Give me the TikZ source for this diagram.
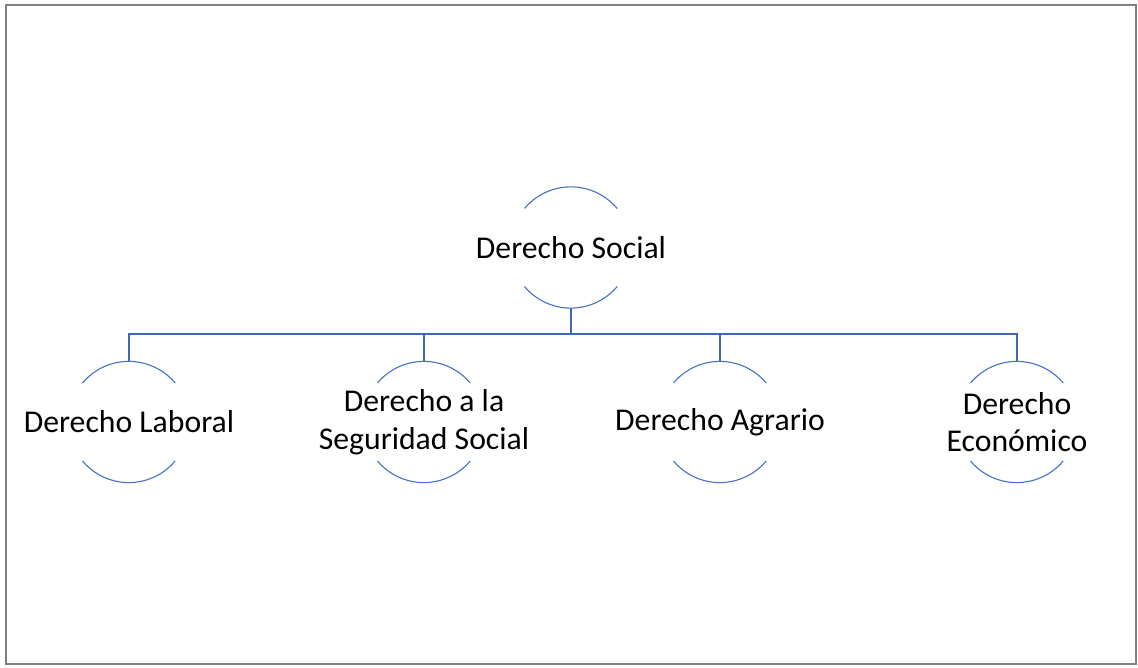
\documentclass[tikz,border=0pt]{standalone}
\usepackage{fontspec}
\setmainfont{Carlito}
\definecolor{arcblue}{HTML}{4472C4}
\definecolor{linkblue}{HTML}{3F67B2}
\definecolor{framegray}{HTML}{808080}
\begin{document}
\begin{tikzpicture}[x=1pt,y=1pt,
  ring/.style={circle,minimum size=121pt,inner sep=0pt,draw=none},
  lbl/.style={font=\fontsize{31.7}{37.5}\selectfont,align=center,inner sep=0pt,text=black},
  arcst/.style={draw=arcblue,line width=1.1pt},
  conn/.style={draw=linkblue,line width=1.4pt}]
\useasboundingbox (0,0) rectangle (1138,667);
\draw[framegray,line width=2pt] (6,3) rectangle (1136,662);
% rings
\node[ring] (ds) at (571,419.5) {};
\node[ring] (dl) at (129,245) {};
\node[ring] (dss) at (424,245) {};
\node[ring] (da) at (720,245) {};
\node[ring] (de) at (1017,245) {};
% labels
\node[lbl] (tds) at (ds) {Derecho Social};
\node[lbl] (tdl) at (dl) {Derecho Laboral};
\node[lbl] (tdss) at (dss) {Derecho a la\\Seguridad Social};
\node[lbl] (tda) at (da) {Derecho Agrario};
\node[lbl] (tde) at (de) {Derecho\\Económico};
% arcs
\foreach \n in {ds,dl,dss,da,de}{
  \draw[arcst] (\n.140) arc[start angle=140,end angle=40,radius=60.5pt];
  \draw[arcst] (\n.220) arc[start angle=220,end angle=320,radius=60.5pt];
}
% connectors
\coordinate (bus) at (571,333);
\draw[conn] (ds.south) -- (bus);
\draw[conn] (bus) -| (dl.north);
\draw[conn] (bus) -| (dss.north);
\draw[conn] (bus) -| (da.north);
\draw[conn] (bus) -| (de.north);
\end{tikzpicture}
\end{document}
